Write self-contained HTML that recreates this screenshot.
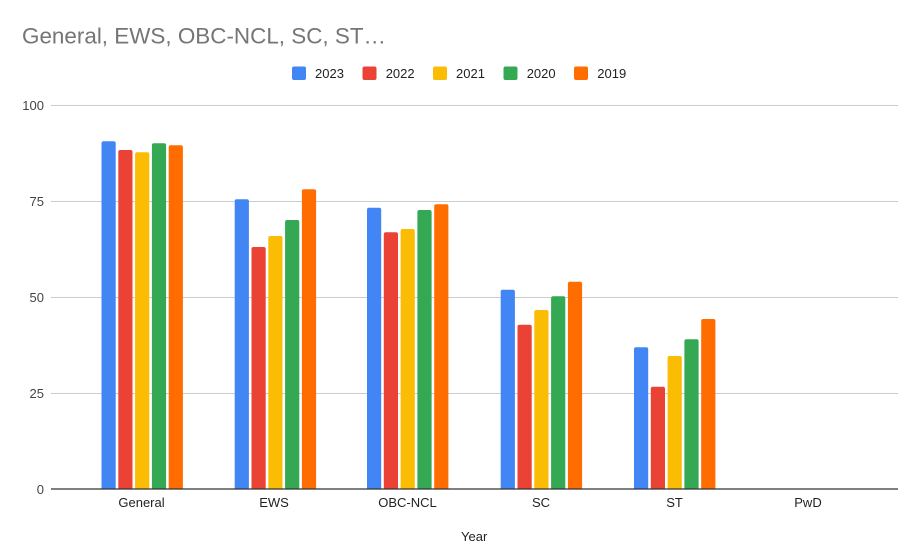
<!DOCTYPE html>
<html><head><meta charset="utf-8"><style>
html,body{margin:0;padding:0;background:#fff;}
svg{display:block;font-family:"Liberation Sans",Arial,sans-serif;}
</style></head><body>
<svg width="919" height="560" viewBox="0 0 919 560" xmlns="http://www.w3.org/2000/svg">
<rect width="919" height="560" fill="#fff"/>
<text x="22" y="43.5" font-size="22" fill="#757575" textLength="364" lengthAdjust="spacingAndGlyphs">General, EWS, OBC-NCL, SC, ST…</text>
<g font-size="13" fill="#222">
<rect x="292" y="66.5" width="14" height="13.5" rx="2" fill="#4285F4"/><text x="315" y="78">2023</text>
<rect x="362.5" y="66.5" width="14" height="13.5" rx="2" fill="#EA4335"/><text x="385.7" y="78">2022</text>
<rect x="433" y="66.5" width="14" height="13.5" rx="2" fill="#FBBC04"/><text x="456" y="78">2021</text>
<rect x="503.5" y="66.5" width="14" height="13.5" rx="2" fill="#34A853"/><text x="526.7" y="78">2020</text>
<rect x="574" y="66.5" width="14" height="13.5" rx="2" fill="#FF6D01"/><text x="597.3" y="78">2019</text>
</g>
<g stroke="#ccc" stroke-width="1">
<line x1="51" y1="105.5" x2="898" y2="105.5"/>
<line x1="51" y1="201.5" x2="898" y2="201.5"/>
<line x1="51" y1="297.5" x2="898" y2="297.5"/>
<line x1="51" y1="393.5" x2="898" y2="393.5"/>
</g>
<g font-size="13" fill="#444" text-anchor="end">
<text x="44" y="110">100</text>
<text x="44" y="206">75</text>
<text x="44" y="302">50</text>
<text x="44" y="398">25</text>
<text x="44" y="494">0</text>
</g>
<g id="bars">
<!-- General -->
<path d="M101.5 489V143.3a2 2 0 0 1 2-2h10.2a2 2 0 0 1 2 2V489z" fill="#4285F4"/>
<path d="M118.3 489V152a2 2 0 0 1 2-2h10.2a2 2 0 0 1 2 2V489z" fill="#EA4335"/>
<path d="M135.1 489V154.3a2 2 0 0 1 2-2h10.2a2 2 0 0 1 2 2V489z" fill="#FBBC04"/>
<path d="M151.9 489V145.3a2 2 0 0 1 2-2h10.2a2 2 0 0 1 2 2V489z" fill="#34A853"/>
<path d="M168.7 489V147.3a2 2 0 0 1 2-2h10.2a2 2 0 0 1 2 2V489z" fill="#FF6D01"/>
<!-- EWS -->
<path d="M234.7 489V201.3a2 2 0 0 1 2-2h10.2a2 2 0 0 1 2 2V489z" fill="#4285F4"/>
<path d="M251.5 489V249a2 2 0 0 1 2-2h10.2a2 2 0 0 1 2 2V489z" fill="#EA4335"/>
<path d="M268.3 489V238a2 2 0 0 1 2-2h10.2a2 2 0 0 1 2 2V489z" fill="#FBBC04"/>
<path d="M285.1 489V222a2 2 0 0 1 2-2h10.2a2 2 0 0 1 2 2V489z" fill="#34A853"/>
<path d="M301.9 489V191.3a2 2 0 0 1 2-2h10.2a2 2 0 0 1 2 2V489z" fill="#FF6D01"/>
<!-- OBC-NCL -->
<path d="M367 489V209.7a2 2 0 0 1 2-2h10.2a2 2 0 0 1 2 2V489z" fill="#4285F4"/>
<path d="M383.8 489V234.3a2 2 0 0 1 2-2h10.2a2 2 0 0 1 2 2V489z" fill="#EA4335"/>
<path d="M400.6 489V231a2 2 0 0 1 2-2h10.2a2 2 0 0 1 2 2V489z" fill="#FBBC04"/>
<path d="M417.4 489V212a2 2 0 0 1 2-2h10.2a2 2 0 0 1 2 2V489z" fill="#34A853"/>
<path d="M434.2 489V206.3a2 2 0 0 1 2-2h10.2a2 2 0 0 1 2 2V489z" fill="#FF6D01"/>
<!-- SC -->
<path d="M500.7 489V291.7a2 2 0 0 1 2-2h10.2a2 2 0 0 1 2 2V489z" fill="#4285F4"/>
<path d="M517.5 489V326.7a2 2 0 0 1 2-2h10.2a2 2 0 0 1 2 2V489z" fill="#EA4335"/>
<path d="M534.3 489V312a2 2 0 0 1 2-2h10.2a2 2 0 0 1 2 2V489z" fill="#FBBC04"/>
<path d="M551.1 489V298.3a2 2 0 0 1 2-2h10.2a2 2 0 0 1 2 2V489z" fill="#34A853"/>
<path d="M567.9 489V283.7a2 2 0 0 1 2-2h10.2a2 2 0 0 1 2 2V489z" fill="#FF6D01"/>
<!-- ST -->
<path d="M634 489V349.3a2 2 0 0 1 2-2h10.2a2 2 0 0 1 2 2V489z" fill="#4285F4"/>
<path d="M650.8 489V388.7a2 2 0 0 1 2-2h10.2a2 2 0 0 1 2 2V489z" fill="#EA4335"/>
<path d="M667.6 489V358a2 2 0 0 1 2-2h10.2a2 2 0 0 1 2 2V489z" fill="#FBBC04"/>
<path d="M684.4 489V341.3a2 2 0 0 1 2-2h10.2a2 2 0 0 1 2 2V489z" fill="#34A853"/>
<path d="M701.2 489V321a2 2 0 0 1 2-2h10.2a2 2 0 0 1 2 2V489z" fill="#FF6D01"/>
</g>
<line x1="51" y1="489" x2="898" y2="489" stroke="#333" stroke-width="1.3"/>
<g font-size="13" fill="#222" text-anchor="middle">
<text x="141.5" y="507">General</text>
<text x="274" y="507">EWS</text>
<text x="407.5" y="507">OBC-NCL</text>
<text x="541" y="507">SC</text>
<text x="674.5" y="507">ST</text>
<text x="808" y="507">PwD</text>
</g>
<text x="461" y="541" font-size="13" fill="#222">Year</text>
</svg>
</body></html>
